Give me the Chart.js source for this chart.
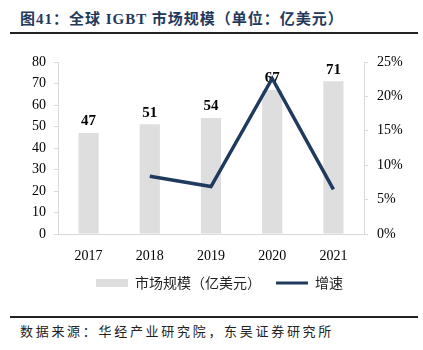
<!DOCTYPE html>
<html>
<head>
<meta charset="utf-8">
<script src="https://cdn.jsdelivr.net/npm/chart.js@4/dist/chart.umd.min.js"></script>
<style>
  html, body { margin: 0; padding: 0; background: #fff; }
  body { width: 423px; height: 350px; position: relative; overflow: hidden; }
  .title {
    position: absolute; left: 20px; top: 7px;
    font: bold 15px "Liberation Serif", "Noto Sans CJK SC", serif;
    letter-spacing: 1px;
    color: #1f3a5c; white-space: nowrap;
  }
  .rule { position: absolute; left: 10px; width: 408px; height: 2px; background: #222; }
  .source {
    position: absolute; left: 20px; top: 321px;
    font: 13px "Noto Sans CJK SC", sans-serif; letter-spacing: 2.7px;
    color: #222; white-space: nowrap;
  }
  .wrap { position: absolute; left: 0; top: 40px; width: 423px; height: 262px; }
</style>
</head>
<body>
<div class="title">图41：全球 IGBT 市场规模（单位：亿美元）</div>
<div class="rule" style="top:32px"></div>
<div class="wrap"><canvas id="chart"></canvas></div>
<div class="rule" style="top:316px"></div>
<div class="source">数据来源：华经产业研究院，东吴证券研究所</div>
<script>
// data
const years = ['2017', '2018', '2019', '2020', '2021'];
const marketSize = [47, 51, 54, 67, 71];          // 亿美元
const growthRate = [null, 8.4, 6.9, 22.6, 6.5];   // %
const leftTicks = [0, 10, 20, 30, 40, 50, 60, 70, 80];
const rightTicks = [0, 5, 10, 15, 20, 25];

const serif = '"Liberation Serif", "Times New Roman", serif';
const axisGray = '#d9d9d9';

// bar value labels, drawn before the line so the line sits on top
const barLabels = {
  id: 'barLabels',
  afterDatasetDraw(chart, args) {
    if (args.index !== 0) return;
    const ctx = chart.ctx;
    ctx.save();
    ctx.font = 'bold 15px ' + serif;
    ctx.fillStyle = '#000';
    ctx.textAlign = 'center';
    ctx.textBaseline = 'bottom';
    args.meta.data.forEach((bar, i) => {
      ctx.fillText(marketSize[i], bar.x, bar.y - 4);
    });
    ctx.restore();
  }
};

new Chart(document.getElementById('chart'), {
  data: {
    labels: years,
    datasets: [{
      type: 'bar',
      label: '市场规模（亿美元）',
      data: marketSize,
      backgroundColor: '#dedede',
      borderWidth: 0,
      barPercentage: 0.33,
      categoryPercentage: 1,
      yAxisID: 'y',
      order: 2
    }, {
      type: 'line',
      label: '增速',
      data: growthRate,
      borderColor: '#1f3a5f',
      backgroundColor: '#1f3a5f',
      borderWidth: 3.5,
      pointRadius: 0,
      tension: 0,
      yAxisID: 'y1',
      order: 1
    }]
  },
  options: {
    responsive: true,
    maintainAspectRatio: false,
    animation: false,
    layout: { padding: { top: 22, left: 16, right: 0, bottom: 2 } },
    plugins: {
      tooltip: { enabled: false },
      legend: {
        position: 'bottom',
        labels: {
          usePointStyle: true,
          pointStyleWidth: 32,
          boxHeight: 8,
          padding: 15,
          color: '#222',
          font: { family: '"Noto Sans CJK SC", sans-serif', size: 14 },
          sort: (a, b) => a.datasetIndex - b.datasetIndex,
          generateLabels(chart) {
            const items = Chart.defaults.plugins.legend.labels.generateLabels(chart);
            items.forEach(it => {
              if (it.datasetIndex === 0) {
                it.pointStyle = 'rect';
                it.lineWidth = 0;
              } else {
                it.pointStyle = 'line';
                it.strokeStyle = '#1f3a5f';
                it.lineWidth = 3;
              }
            });
            return items;
          }
        }
      }
    },
    scales: {
      x: {
        grid: { display: false },
        border: { color: axisGray },
        ticks: { color: '#000', padding: 6, font: { family: serif, size: 14 } },
        afterFit(scale) { scale.height = 27; }
      },
      y: {
        position: 'left',
        min: 0, max: 80,
        afterBuildTicks(scale) { scale.ticks = leftTicks.map(v => ({ value: v })); },
        grid: { drawOnChartArea: false, tickLength: 4, color: axisGray },
        border: { color: axisGray },
        ticks: { color: '#000', padding: 8, font: { family: serif, size: 14 } },
        afterFit(scale) { scale.width = 42; }
      },
      y1: {
        position: 'right',
        min: 0, max: 25,
        afterBuildTicks(scale) { scale.ticks = rightTicks.map(v => ({ value: v })); },
        grid: { drawOnChartArea: false, tickLength: 4, color: axisGray },
        border: { color: axisGray },
        ticks: {
          color: '#000', padding: 9, font: { family: serif, size: 14 },
          callback: v => v + '%'
        },
        afterFit(scale) { scale.width = 59; }
      }
    }
  },
  plugins: [barLabels]
});
</script>
</body>
</html>
